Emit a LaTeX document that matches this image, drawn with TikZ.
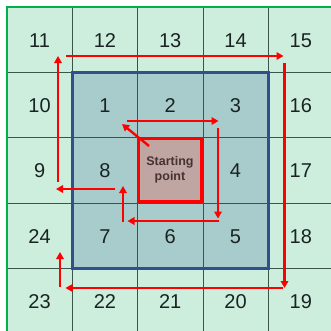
\documentclass[tikz,border=0pt]{standalone}
\usepackage{fontspec}
\setmainfont{Liberation Sans}
\usetikzlibrary{arrows.meta}
\definecolor{outerfill}{RGB}{205,238,220}
\definecolor{innerfill}{RGB}{168,204,203}
\definecolor{centerfill}{RGB}{192,166,162}
\definecolor{gridline}{RGB}{60,85,75}
\definecolor{bordergreen}{RGB}{0,176,80}
\definecolor{borderblue}{RGB}{47,80,140}
\definecolor{numcol}{RGB}{25,35,35}
\definecolor{startcol}{RGB}{70,50,50}
\tikzset{
  num/.style={font=\fontsize{20}{22}\selectfont, text=numcol, inner sep=0pt},
  startlabel/.style={font=\fontsize{12.5}{15.5}\selectfont\bfseries, text=startcol, align=center, inner sep=0pt},
  redarrow/.style={draw=red, line width=2.4pt, -{Triangle[length=7pt,width=7.5pt]}},
}
\begin{document}
\begin{tikzpicture}[x=1pt,y=-1pt]
\useasboundingbox (0,0) rectangle (331,330);
\begin{scope}
\clip (0,0) rectangle (331,330);
% outer fill
\fill[outerfill] (7,7) rectangle (340,340);
% inner fill
\fill[innerfill] (72.3,72.3) rectangle (268.3,268.3);
% grid lines
\foreach \i in {72.3,137.7,203,268.3} {
  \draw[gridline, line width=0.9pt] (\i,7) -- (\i,340);
  \draw[gridline, line width=0.9pt] (7,\i) -- (340,\i);
}
% green border
\draw[bordergreen, line width=2.2pt] (7,340) -- (7,7) -- (340,7);
% blue border
\draw[borderblue, line width=2.4pt] (72.3,72.3) rectangle (268.3,268.3);
% center cell
\draw[red, fill=centerfill, line width=2.6pt] (138.5,138.8) rectangle (201.5,201.5);
\end{scope}

% numbers
\node[num] (n11) at (39.6,41) {11};
\node[num] (n12) at (104.9,41) {12};
\node[num] (n13) at (170.2,41) {13};
\node[num] (n14) at (235.5,41) {14};
\node[num] (n15) at (300.8,41) {15};
\node[num] (n10) at (39.6,106) {10};
\node[num] (n1) at (104.9,106) {1};
\node[num] (n2) at (170.2,106) {2};
\node[num] (n3) at (235.5,106) {3};
\node[num] (n16) at (300.8,106) {16};
\node[num] (n9) at (39.6,171) {9};
\node[num] (n8) at (104.9,171) {8};
\node[startlabel] (start) at (170,170) {Starting\\point};
\node[num] (n4) at (235.5,171) {4};
\node[num] (n17) at (300.8,171) {17};
\node[num] (n24) at (39.6,236.5) {24};
\node[num] (n7) at (104.9,236.5) {7};
\node[num] (n6) at (170.2,236.5) {6};
\node[num] (n5) at (235.5,236.5) {5};
\node[num] (n18) at (300.8,236.5) {18};
\node[num] (n23) at (39.6,302) {23};
\node[num] (n22) at (104.9,302) {22};
\node[num] (n21) at (170.2,302) {21};
\node[num] (n20) at (235.5,302) {20};
\node[num] (n19) at (300.8,302) {19};

% arrow end points
\coordinate (a0) at (149,146);
\coordinate (a0e) at (122,124);
\coordinate (b0) at (127,121);
\coordinate (b1) at (218.5,121);
\coordinate (c0) at (218,128);
\coordinate (c1) at (218,218.5);
\coordinate (d0) at (218.5,221);
\coordinate (d1) at (127.5,221);
\coordinate (e0) at (123,222);
\coordinate (e1) at (123,186);
\coordinate (f0) at (115,189);
\coordinate (f1) at (56,189);
\coordinate (g0) at (58,182);
\coordinate (g1) at (58,56);
\coordinate (h0) at (66,56);
\coordinate (h1) at (283.5,56);
\coordinate (i0) at (284.5,63);
\coordinate (i1) at (284.5,288);
\coordinate (j0) at (283,288);
\coordinate (j1) at (65.5,288);
\coordinate (k0) at (60,287);
\coordinate (k1) at (60,252);

\draw[redarrow] (a0) -- (a0e);
\draw[redarrow] (b0) -- (b1);
\draw[redarrow] (c0) -- (c1);
\draw[redarrow] (d0) -- (d1);
\draw[redarrow] (e0) -- (e1);
\draw[redarrow] (f0) -- (f1);
\draw[redarrow] (g0) -- (g1);
\draw[redarrow] (h0) -- (h1);
\draw[redarrow] (i0) -- (i1);
\draw[redarrow] (j0) -- (j1);
\draw[redarrow] (k0) -- (k1);
\end{tikzpicture}
\end{document}
